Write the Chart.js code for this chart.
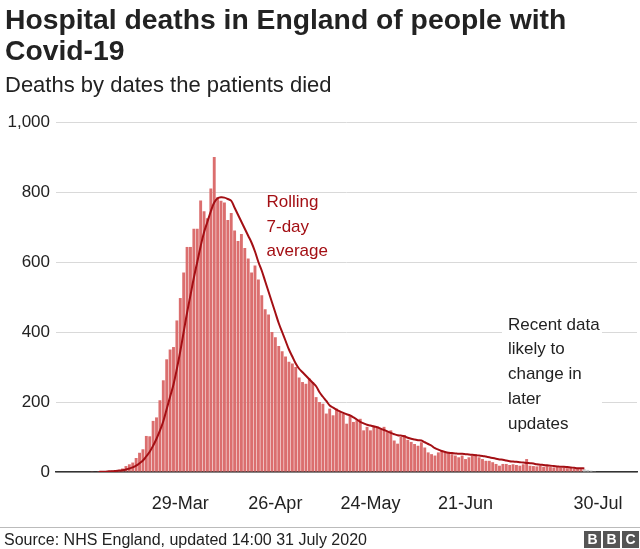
<!DOCTYPE html>
<html>
<head>
<meta charset="utf-8">
<script src="https://cdn.jsdelivr.net/npm/chart.js@4/dist/chart.umd.min.js"></script>
<style>
  body { margin: 0; background: #fff; font-family: "Liberation Sans", Arial, sans-serif; color: #222; }
  #wrap { position: relative; width: 640px; height: 549px; overflow: hidden; }
  #chart { position: absolute; left: 0; top: 0; }
  h1 { position: absolute; left: 5px; top: 4px; margin: 0; font-size: 28.3px; line-height: 31px; font-weight: bold; width: 635px; }
  .sub { position: absolute; left: 5px; top: 72px; font-size: 22px; line-height: 26px; }
  .rule { position: absolute; left: 0; top: 527px; width: 640px; height: 1px; background: #bbb; }
  .source { position: absolute; left: 4px; top: 531px; font-size: 16px; line-height: 18px; }
  .bbc { position: absolute; right: 1px; top: 531px; display: flex; gap: 2px; }
  .bbc span { width: 17px; height: 17px; background: #555; color: #fff; font-weight: bold; font-size: 14px; line-height: 17px; text-align: center; }
</style>
</head>
<body>
<div id="wrap">
  <canvas id="chart" width="640" height="549"></canvas>
  <h1>Hospital deaths in England of people with<br>Covid-19</h1>
  <div class="sub">Deaths by dates the patients died</div>
  <div class="rule"></div>
  <div class="source">Source: NHS England, updated 14:00 31 July 2020</div>
  <div class="bbc"><span>B</span><span>B</span><span>C</span></div>
</div>
<script>
// day 0 = 1 March 2020
const deathsStart = 0
const deaths = [
  // March
  0, 0, 1, 0, 2, 1, 2, 3, 4, 5,
  6, 10, 17, 22, 27, 40, 55, 65, 103, 102,
  146, 156, 205, 262, 322, 350, 357, 433, 497, 570,
  643,
  // April
  643, 695, 695, 776, 745, 725, 810, 900, 785, 775,
  770, 720, 740, 690, 660, 680, 640, 610, 570, 590,
  550, 505, 465, 450, 400, 385, 360, 345, 330, 315,
  // May
  310, 300, 270, 257, 252, 267, 257, 214, 200, 195,
  167, 181, 162, 181, 171, 167, 138, 162, 143, 148,
  152, 119, 129, 119, 133, 129, 124, 129, 114, 119,
  90,
  // June
  81, 100, 105, 92, 86, 80, 75, 85, 70, 56,
  51, 47, 56, 61, 56, 56, 51, 47, 42, 47,
  37, 42, 47, 51, 42, 37, 32, 32, 28, 23,
  // July 1-25
  18, 23, 23, 20, 22, 20, 18, 22, 37, 18,
  17, 16, 18, 15, 17, 14, 13, 14, 12, 13,
  11, 12, 10, 11, 9,
]

// grey bars, 26-29 July
const recentStart = 147
const recentDeaths = [8, 6, 4, 2]

// rolling 7-day average, from 5 March
const avgStart = 4
const rollingAvg = [
  0, 1, 1, 2, 2, 3, 4, 5, 7, 10,
  13, 18, 25, 33, 45, 58, 75, 95, 118, 145,
  180, 215, 250, 295, 345, 400, 455,
  505, 555, 600, 645, 685, 715, 745, 770, 782, 785,
  784, 780, 775, 755, 735, 715, 695, 675, 655, 630,
  600, 575, 545, 515, 485, 455, 425, 400, 375, 350,
  330, 310, 295, 285, 275, 265, 255, 245, 228, 215,
  203, 190, 184, 178, 173, 169, 165, 162, 156, 150,
  143, 139, 135, 133, 130, 128, 124, 120, 116, 112,
  108,
  105, 104, 102, 98, 95, 93, 91, 90, 85, 80,
  75, 68, 64, 60, 57, 55, 54, 53, 52, 52,
  51, 50, 49, 48, 47, 46, 44, 42, 40, 38,
  36, 35, 33, 31, 30, 29, 28, 27, 26, 25,
  24, 22, 21, 20, 19, 18, 17, 16, 15, 15,
  14, 13, 12, 11, 11, 10,
]

const tickDays = [28, 56, 84, 112, 151]
const tickLabels = ["29-Mar", "26-Apr", "24-May", "21-Jun", "30-Jul"]
const yTicks = [0, 200, 400, 600, 800, 1000]

const avgNote = ["Rolling", "7-day", "average"]
const recentNote = ["Recent data", "likely to", "change in", "later", "updates"]

const BAR = "#db6e6e"
const DARK_RED = "#a30f14"
const FONT = "'Liberation Sans', Arial, sans-serif"

const toPoints = (arr, start) => arr.map((v, i) => ({ x: start + i, y: v }))

// text notes, placed in data space
const notes = {
  id: "notes",
  afterDraw(chart) {
    const { ctx, scales: { x, y } } = chart
    ctx.save()
    ctx.font = "17px " + FONT
    ctx.textBaseline = "middle"
    ctx.textAlign = "left"

    let px = x.getPixelForValue(53.4)
    let py = y.getPixelForValue(770)
    ctx.fillStyle = DARK_RED
    avgNote.forEach((t, i) => ctx.fillText(t, px, py + i * 24.5))

    px = x.getPixelForValue(124.5)
    py = y.getPixelForValue(420)
    ctx.fillStyle = "#fff"
    ctx.fillRect(px - 6, py - 14, 100, 4 * 24.8 + 28)
    ctx.fillStyle = "#222"
    recentNote.forEach((t, i) => ctx.fillText(t, px, py + i * 24.8))
    ctx.restore()
  },
}

new Chart(document.getElementById("chart"), {
  data: {
    datasets: [
      {
        type: "line",
        data: toPoints(rollingAvg, avgStart),
        borderColor: DARK_RED,
        borderWidth: 2,
        pointRadius: 0,
        tension: 0.4,
        order: 0,
      },
      {
        type: "bar",
        data: toPoints(deaths, deathsStart),
        backgroundColor: BAR,
        barPercentage: 0.85,
        categoryPercentage: 1,
        grouped: false,
        order: 1,
      },
      {
        type: "bar",
        data: toPoints(recentDeaths, recentStart),
        backgroundColor: "#cfcfcf",
        barPercentage: 0.85,
        categoryPercentage: 1,
        grouped: false,
        order: 2,
      },
    ],
  },
  options: {
    responsive: false,
    animation: false,
    layout: { padding: { top: 122, right: 3, bottom: 27, left: 0 } },
    plugins: { legend: { display: false }, tooltip: { enabled: false } },
    scales: {
      x: {
        type: "linear",
        min: -8.6,
        max: 162.5,
        offset: false,
        z: 1,
        // grid hidden, tickLength only pushes the labels down
        grid: { display: false, drawTicks: true, tickLength: 18 },
        border: { display: true, color: "#333", width: 1.5 },
        afterBuildTicks: (scale) => { scale.ticks = tickDays.map(v => ({ value: v })) },
        afterFit: (scale) => { scale.height = 50 },
        ticks: {
          padding: 3,
          maxRotation: 0,
          autoSkip: false,
          color: "#222",
          font: { size: 18, family: FONT },
          callback: (v) => tickLabels[tickDays.indexOf(v)],
        },
      },
      y: {
        min: 0,
        max: 1000,
        grid: { color: "#d9d9d9", drawTicks: false },
        border: { display: false },
        afterBuildTicks: (scale) => { scale.ticks = yTicks.map(v => ({ value: v })) },
        afterFit: (scale) => { scale.width = 56 },
        ticks: {
          padding: 6,
          color: "#222",
          font: { size: 17, family: FONT },
          callback: (v) => v.toLocaleString("en-GB"),
        },
      },
    },
  },
  plugins: [notes],
})
</script>
</body>
</html>
